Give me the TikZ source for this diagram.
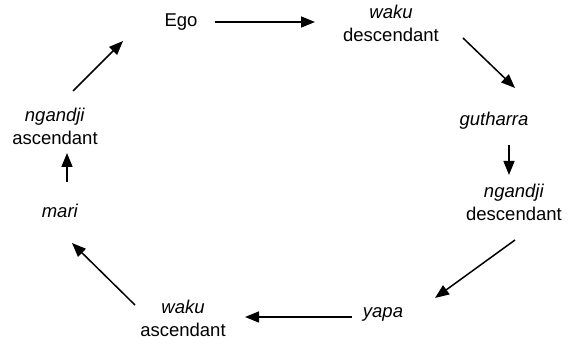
\documentclass[tikz,border=0pt]{standalone}
\usepackage{fontspec}
\setmainfont{Liberation Sans}
\usetikzlibrary{arrows.meta}

\begin{document}
\begin{tikzpicture}[
  x=1pt,y=-1pt,
  term/.style={align=center,inner sep=0pt,font=\fontsize{18.5}{23}\selectfont},
  arr/.style={-{Triangle[length=14pt,width=11pt]},line width=1.5pt}
]
\useasboundingbox (0,0) rectangle (576,347);

\node[term] (ego) at (181,22) {Ego};
\node[term] (wd) at (391,23) {\textit{waku}\\descendant};
\node[term] (gu) at (494,121) {\textit{gutharra}};
\node[term] (nd) at (514,202) {\textit{ngandji}\\descendant};
\node[term] (ya) at (383,314) {\textit{yapa}};
\node[term] (wa) at (183,318) {\textit{waku}\\ascendant};
\node[term] (ma) at (60,211) {\textit{mari}};
\node[term] (na) at (55,126) {\textit{ngandji}\\ascendant};

% the cycle, clockwise from Ego
\draw[arr] ([shift={(34,0)}]ego.center) -- ([shift={(-76,-1)}]wd.center);
\draw[arr] ([shift={(72,15)}]wd.center) -- ([shift={(21,-33)}]gu.center);
\draw[arr] ([shift={(15,24)}]gu.center) -- ([shift={(-5,-27)}]nd.center);
\draw[arr] ([shift={(1,38)}]nd.center) -- ([shift={(52,-16)}]ya.center);
\draw[arr] ([shift={(-31,3)}]ya.center) -- ([shift={(62,-1)}]wa.center);
\draw[arr] ([shift={(-48,-13)}]wa.center) -- ([shift={(12,32)}]ma.center);
\draw[arr] ([shift={(7,-29)}]ma.center) -- ([shift={(12,27)}]na.center);
\draw[arr] ([shift={(18,-35)}]na.center) -- ([shift={(-58,19)}]ego.center);

\end{tikzpicture}
\end{document}
